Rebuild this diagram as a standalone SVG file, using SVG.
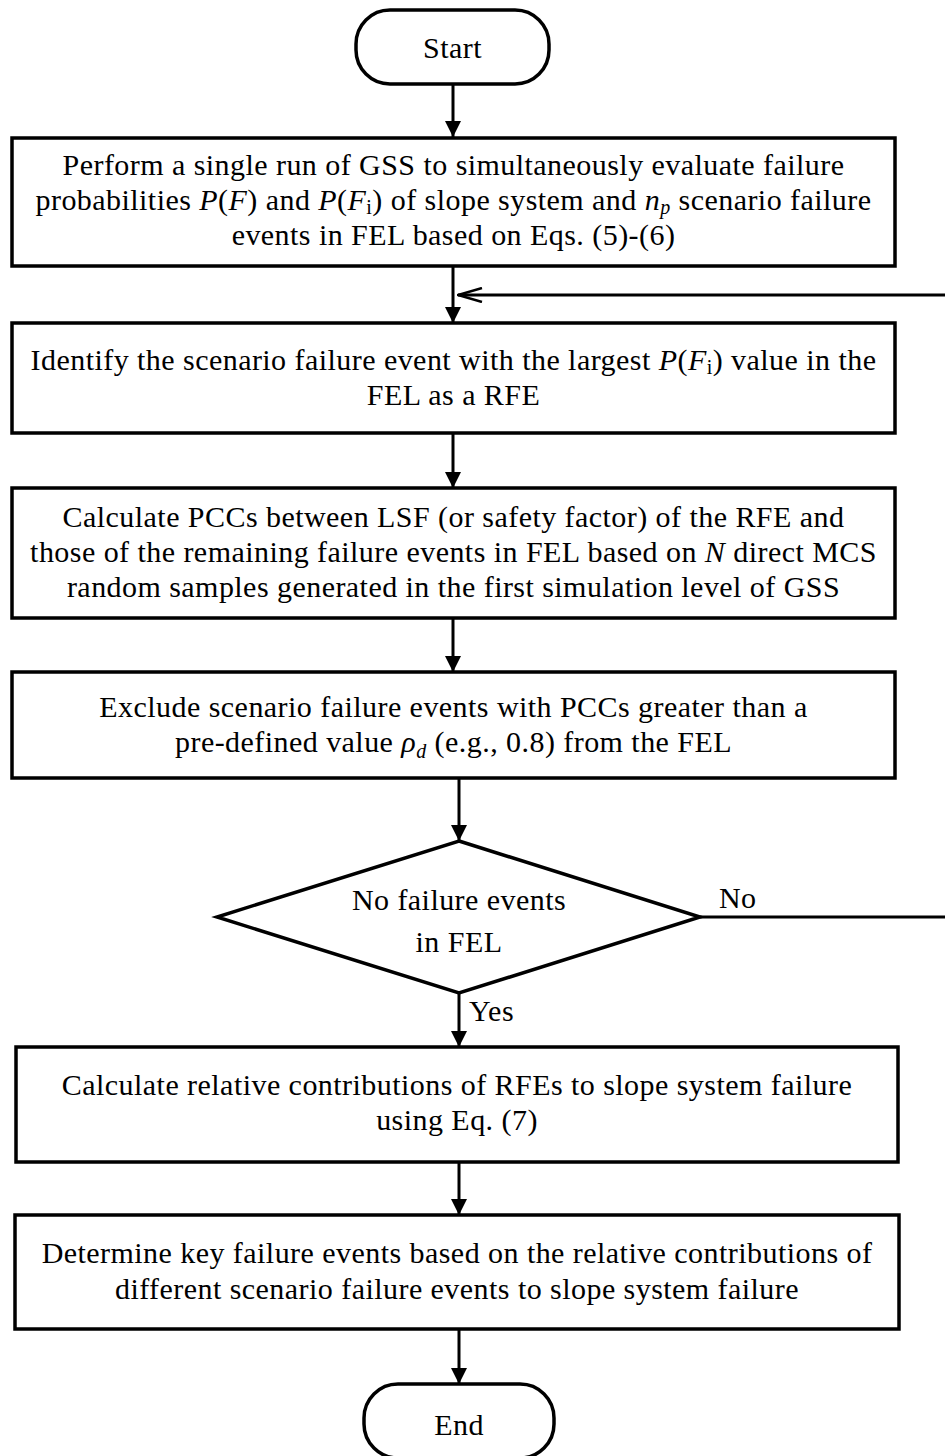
<svg xmlns="http://www.w3.org/2000/svg" width="945" height="1456" viewBox="0 0 945 1456">
<style>
.box{fill:#fff;stroke:#000;stroke-width:3.5}
.ln{fill:none;stroke:#000;stroke-width:3}
.t{font-family:"Liberation Serif","Times New Roman",serif;font-size:30px;letter-spacing:0.45px;fill:#000;text-anchor:middle}
.l{font-family:"Liberation Serif","Times New Roman",serif;font-size:30px;letter-spacing:0.45px;fill:#000}
.i{font-style:italic}
.sub{font-size:20px}
</style>
<defs>
<marker id="ah" viewBox="0 0 16 16" refX="16" refY="8" markerWidth="16" markerHeight="16" markerUnits="userSpaceOnUse" orient="auto">
<path d="M0,0 L16,8 L0,16 Z" fill="#000"/>
</marker>
<marker id="oh" viewBox="0 0 26 16" refX="25" refY="8" markerWidth="26" markerHeight="16" markerUnits="userSpaceOnUse" orient="auto">
<path d="M1,1 L25,8 L1,15" fill="none" stroke="#000" stroke-width="2.5"/>
</marker>
</defs>
<g id="connectors">
<line class="ln" x1="453" y1="84" x2="453" y2="137" marker-end="url(#ah)"/>
<line class="ln" x1="453" y1="266" x2="453" y2="323" marker-end="url(#ah)"/>
<path class="ln" d="M700,917 L948,917 L948,295 L458,295" marker-end="url(#oh)"/>
<line class="ln" x1="453" y1="433" x2="453" y2="488" marker-end="url(#ah)"/>
<line class="ln" x1="453" y1="618" x2="453" y2="672" marker-end="url(#ah)"/>
<line class="ln" x1="459" y1="778" x2="459" y2="841" marker-end="url(#ah)"/>
<line class="ln" x1="459" y1="993" x2="459" y2="1047" marker-end="url(#ah)"/>
<line class="ln" x1="459" y1="1162" x2="459" y2="1215" marker-end="url(#ah)"/>
<line class="ln" x1="459" y1="1329" x2="459" y2="1384" marker-end="url(#ah)"/>
<text class="l" x="719" y="908">No</text>
<text class="l" x="469" y="1021">Yes</text>
</g>
<g id="start">
<rect class="box" x="356" y="10" width="193" height="74" rx="34" ry="34"/>
<text class="t" x="452.5" y="58">Start</text>
</g>
<g id="step1">
<rect class="box" x="12" y="138" width="883" height="128"/>
<text class="t" x="453.5" y="175">Perform a single run of GSS to simultaneously evaluate failure</text>
<text class="t" x="453.5" y="210">probabilities <tspan class="i">P</tspan>(<tspan class="i">F</tspan>) and <tspan class="i">P</tspan>(<tspan class="i">F</tspan><tspan class="sub" dy="4">i</tspan><tspan dy="-4">) of slope system and </tspan><tspan class="i">n</tspan><tspan class="i sub" dy="4">p</tspan><tspan dy="-4"> scenario failure</tspan></text>
<text class="t" x="453.5" y="245">events in FEL based on Eqs. (5)-(6)</text>
</g>
<g id="step2">
<rect class="box" x="12" y="323" width="883" height="110"/>
<text class="t" x="453.5" y="370">Identify the scenario failure event with the largest <tspan class="i">P</tspan>(<tspan class="i">F</tspan><tspan class="sub" dy="4">i</tspan><tspan dy="-4">) value in the</tspan></text>
<text class="t" x="453.5" y="405">FEL as a RFE</text>
</g>
<g id="step3">
<rect class="box" x="12" y="488" width="883" height="130"/>
<text class="t" x="453.5" y="527">Calculate PCCs between LSF (or safety factor) of the RFE and</text>
<text class="t" x="453.5" y="562">those of the remaining failure events in FEL based on <tspan class="i">N</tspan> direct MCS</text>
<text class="t" x="453.5" y="597">random samples generated in the first simulation level of GSS</text>
</g>
<g id="step4">
<rect class="box" x="12" y="672" width="883" height="106"/>
<text class="t" x="453.5" y="717">Exclude scenario failure events with PCCs greater than a</text>
<text class="t" x="453.5" y="752">pre-defined value <tspan class="i">ρ</tspan><tspan class="i sub" dy="6">d</tspan><tspan dy="-6"> (e.g., 0.8) from the FEL</tspan></text>
</g>
<g id="decision">
<polygon class="box" points="459,841 700,917 459,993 217,917"/>
<text class="t" x="459" y="910">No failure events</text>
<text class="t" x="459" y="952">in FEL</text>
</g>
<g id="step5">
<rect class="box" x="16" y="1047" width="882" height="115"/>
<text class="t" x="457" y="1095">Calculate relative contributions of RFEs to slope system failure</text>
<text class="t" x="457" y="1130">using Eq. (7)</text>
</g>
<g id="step6">
<rect class="box" x="15" y="1215" width="884" height="114"/>
<text class="t" x="457" y="1263">Determine key failure events based on the relative contributions of</text>
<text class="t" x="457" y="1299">different scenario failure events to slope system failure</text>
</g>
<g id="end">
<rect class="box" x="364" y="1384" width="190" height="74" rx="34" ry="34"/>
<text class="t" x="459" y="1435">End</text>
</g>
</svg>
